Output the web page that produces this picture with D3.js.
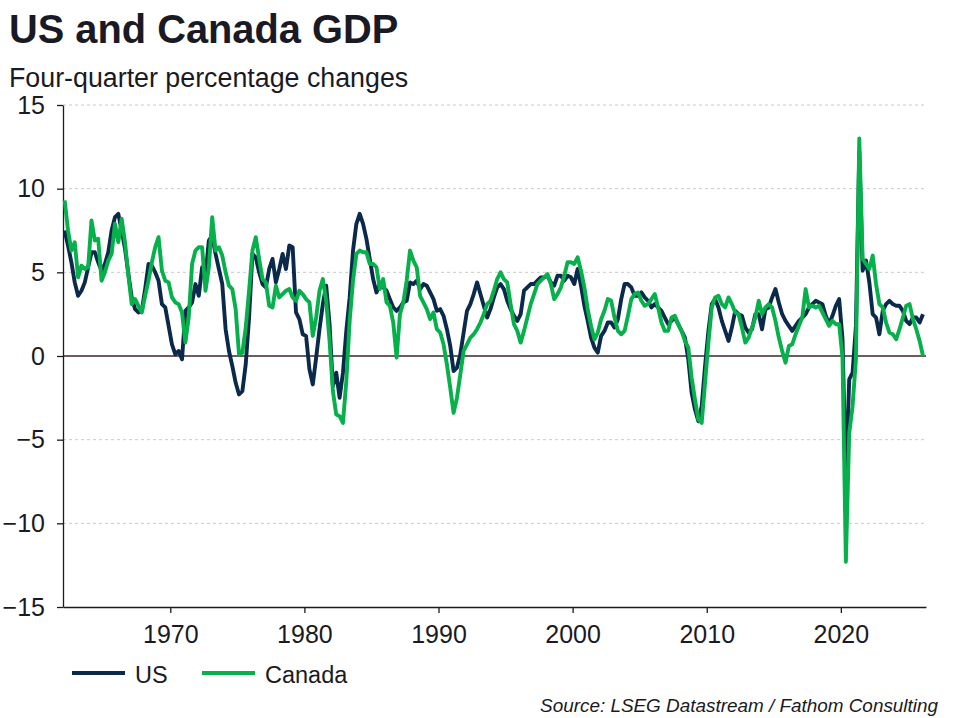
<!DOCTYPE html>
<html>
<head>
<meta charset="utf-8">
<script src="https://cdn.jsdelivr.net/npm/d3@7"></script>
<style>
  body { margin: 0; background: #fff; }
  text { font-family: "Liberation Sans", Arial, sans-serif; fill: #1a1a24; }
</style>
</head>
<body>
<svg id="chart" width="956" height="718"></svg>
<script>
// quarterly data, first value is 1962 Q1, one row per year
var startYear = 1962;
var usGrowth = [
  7.5, 6.6, 5.6, 4.4,   3.6, 3.9, 4.4, 5.3,   6.2, 6.2, 5.6, 5.1,   5.5, 6.2, 7.5, 8.3,
  8.5, 7.5, 6.4, 4.9,   3.5, 2.8, 2.6, 2.7,   4.0, 5.5, 5.4, 5.0,   4.5, 3.1, 2.9, 1.8,
  0.7, 0.1, 0.3, -0.2,  2.7, 2.9, 3.2, 4.3,   3.6, 5.3, 4.8, 6.9,   7.2, 6.1, 5.2, 4.3,
  1.6, 0.3, -0.6, -1.6, -2.3, -2.1, -0.5, 2.3, 6.1, 5.9, 5.0, 4.3,  4.1, 5.2, 5.8, 4.4,
  5.2, 6.1, 5.2, 6.6,   6.5, 2.6, 2.2, 1.3,   1.2, -0.8, -1.7, -0.1, 1.6, 3.1, 4.2, 1.9,
  -1.8, -1.0, -2.5, -1.0, 1.5, 3.5, 6.3, 7.9, 8.5, 7.9, 7.0, 5.8,   4.6, 3.8, 4.3, 4.1,
  3.9, 3.4, 2.9, 2.7,   2.9, 3.2, 3.3, 4.4,   4.3, 4.5, 4.0, 4.3,   4.2, 3.8, 3.4, 2.7,
  2.8, 2.4, 1.6, 0.6,   -0.9, -0.7, 0.1, 1.4, 2.7, 3.1, 3.7, 4.4,   3.7, 3.0, 2.3, 2.8,
  3.5, 4.1, 4.3, 4.0,   3.3, 2.8, 2.4, 2.1,   2.5, 3.9, 4.1, 4.3,   4.3, 4.5, 4.7, 4.7,
  4.8, 4.4, 4.2, 4.8,   4.8, 4.5, 4.8, 4.7,   4.3, 5.2, 4.2, 3.0,   2.1, 1.1, 0.5, 0.2,
  1.2, 1.5, 2.0, 2.0,   1.7, 2.2, 3.4, 4.3,   4.3, 4.1, 3.6, 3.6,   3.8, 3.5, 3.3, 2.9,
  3.1, 2.9, 2.7, 2.3,   1.9, 2.1, 2.3, 1.9,   1.5, 1.1, -0.2, -2.2, -3.2, -3.9, -3.0, -0.6,
  1.5, 3.1, 3.4, 2.9,   2.1, 1.5, 0.9, 1.7,   2.7, 2.5, 2.4, 1.7,   1.4, 1.6, 2.5, 2.5,
  1.6, 2.8, 2.9, 3.5,   4.0, 3.2, 2.5, 2.1,   1.8, 1.5, 1.8, 2.1,   2.3, 2.5, 2.9, 3.1,
  3.3, 3.2, 3.1, 2.4,   1.9, 2.4, 3.0, 3.4,   1.0, -7.5, -1.4, -1.0, 1.8, 12.2, 5.1, 5.7,
  4.4, 2.5, 2.3, 1.3,   2.7, 3.1, 3.3, 3.1,   3.0, 3.0, 2.7, 2.1,   1.9, 2.3, 2.3, 2.0,
  2.5
];
var canadaGrowth = [
  9.3, 7.5, 6.3, 6.8,   4.7, 5.4, 5.2, 5.3,   8.1, 6.9, 7.0, 4.5,   5.0, 5.7, 6.1, 7.9,
  6.8, 8.2, 6.8, 4.8,   3.1, 3.4, 3.0, 2.6,   3.6, 4.5, 5.6, 6.5,   7.1, 5.1, 4.5, 4.4,
  3.5, 3.2, 3.1, 2.6,   0.8, 2.3, 5.5, 6.3,   6.5, 6.5, 3.9, 5.3,   8.3, 6.3, 6.5, 6.0,
  5.0, 4.2, 4.0, 2.8,   0.1, 0.2, 1.7, 3.9,   6.3, 7.1, 5.8, 4.6,   4.4, 3.0, 2.9, 4.2,
  3.5, 3.7, 3.9, 4.0,   3.5, 3.3, 3.9, 3.7,   3.4, 3.2, 1.2, 2.3,   3.9, 4.6, 3.3, 0.9,
  -2.1, -3.5, -3.6, -4.0, -1.5, 2.1, 4.5, 6.1, 6.3, 6.2, 6.2, 5.5,  5.5, 5.3, 4.0, 4.6,
  3.2, 3.0, 2.0, -0.1,  2.5, 3.2, 4.5, 6.3,   5.7, 5.3, 3.6, 3.2,   2.8, 2.2, 2.6, 1.6,
  1.4, 0.7, -0.5, -1.9, -3.4, -2.5, -1.1, 0.3, 0.7, 1.1, 1.3, 1.6,  2.0, 2.5, 3.1, 3.3,
  3.9, 4.6, 5.0, 4.6,   4.4, 3.1, 1.9, 1.5,   0.8, 1.5, 2.3, 3.1,   3.7, 4.3, 4.5, 4.7,
  4.9, 4.3, 3.4, 3.7,   4.1, 4.8, 5.6, 5.6,   5.5, 5.9, 5.1, 4.1,   2.8, 1.8, 1.0, 1.4,
  2.2, 2.7, 3.4, 3.3,   2.3, 1.5, 1.3, 1.5,   2.4, 3.4, 3.7, 3.8,   3.3, 3.0, 3.1, 3.4,
  3.7, 2.9, 2.0, 1.5,   1.5, 2.3, 2.4, 1.9,   1.5, 0.9, 0.5, -1.3,  -2.6, -3.8, -4.0, -1.6,
  0.8, 2.9, 3.5, 3.6,   3.1, 2.9, 3.5, 3.1,   2.6, 2.5, 1.7, 0.8,   1.1, 1.7, 2.3, 3.3,
  2.5, 2.9, 3.1, 2.9,   2.1, 1.1, 0.3, -0.4,  0.6, 0.7, 1.3, 1.8,   2.3, 4.0, 2.9, 3.0,
  2.9, 3.0, 2.6, 2.2,   1.8, 2.1, 1.9, 1.9,   -0.1, -12.3, -4.6, -3.0, -0.2, 13.0, 5.8, 5.5,
  5.2, 6.0, 4.3, 3.1,   2.9, 2.0, 1.4, 1.3,   1.0, 1.6, 2.3, 3.0,   3.1, 2.2, 1.6, 0.9,
  0.0
];
var seriesNames = ["US", "Canada"];
var seriesColors = ["#0b2a4b", "#06b04b"];
var yTicks = [-15, -10, -5, 0, 5, 10, 15];
var xTickYears = [1970, 1980, 1990, 2000, 2010, 2020];

var svg = d3.select("#chart");
var margin = { left: 63, right: 926, top: 105, bottom: 607 };

// quarter index -> fractional year, plotted mid-quarter
function quarterDate(i) {
  return startYear + i / 4 + 0.125;
}

var x = d3.scaleLinear()
  .domain([startYear, 2026.35])
  .range([margin.left, margin.right]);

var y = d3.scaleLinear()
  .domain([-15, 15])
  .range([margin.bottom, margin.top]);

svg.append("text")
  .attr("x", 9)
  .attr("y", 43)
  .style("font-size", "39.8px")
  .style("font-weight", "bold")
  .text("US and Canada GDP");

svg.append("text")
  .attr("x", 9)
  .attr("y", 87)
  .style("font-size", "26.8px")
  .text("Four-quarter percentage changes");

// gridlines
svg.append("g")
  .selectAll("line")
  .data(yTicks.filter(function(d) { return d != 0 && d != -15; }))
  .enter().append("line")
  .attr("x1", margin.left)
  .attr("x2", margin.right)
  .attr("y1", function(d) { return y(d); })
  .attr("y2", function(d) { return y(d); })
  .attr("stroke", "#c9c9c9")
  .attr("stroke-width", 1)
  .attr("stroke-dasharray", "3,3");

svg.append("line")
  .attr("x1", margin.left)
  .attr("x2", margin.right)
  .attr("y1", y(0))
  .attr("y2", y(0))
  .attr("stroke", "#3d2628")
  .attr("stroke-width", 1.4);

var yAxis = svg.append("g")
  .attr("transform", "translate(" + margin.left + ",0)")
  .call(d3.axisLeft(y).tickValues(yTicks).tickSize(6).tickSizeOuter(0).tickPadding(12));

var xAxis = svg.append("g")
  .attr("transform", "translate(0," + margin.bottom + ")")
  .call(d3.axisBottom(x).tickValues(xTickYears).tickFormat(d3.format("d"))
    .tickSize(6).tickSizeOuter(0).tickPadding(12));

[yAxis, xAxis].forEach(function(ax) {
  ax.selectAll("path, line").attr("stroke", "#1a1a24").attr("stroke-width", 1.3);
  ax.selectAll("text")
    .style("font-size", "25px")
    .style("font-family", "'Liberation Sans', Arial, sans-serif")
    .attr("fill", "#1a1a24");
});

var line = d3.line()
  .x(function(d, i) { return x(quarterDate(i)); })
  .y(function(d) { return y(d); });

[usGrowth, canadaGrowth].forEach(function(values, k) {
  svg.append("path")
    .datum(values)
    .attr("fill", "none")
    .attr("stroke", seriesColors[k])
    .attr("stroke-width", 3.9)
    .attr("stroke-linejoin", "round")
    .attr("d", line);
});

// legend
var legend = svg.append("g")
  .selectAll("g")
  .data(seriesNames)
  .enter().append("g")
  .attr("transform", function(d, i) { return "translate(" + (72 + i * 130) + ",673)"; });

legend.append("line")
  .attr("x1", 0)
  .attr("x2", 53)
  .attr("stroke", function(d, i) { return seriesColors[i]; })
  .attr("stroke-width", 4);

legend.append("text")
  .attr("x", 63)
  .attr("y", 10)
  .style("font-size", "23.5px")
  .text(function(d) { return d; });

svg.append("text")
  .attr("x", 938)
  .attr("y", 712)
  .attr("text-anchor", "end")
  .style("font-size", "18.9px")
  .style("font-style", "italic")
  .text("Source: LSEG Datastream / Fathom Consulting");
</script>
</body>
</html>
